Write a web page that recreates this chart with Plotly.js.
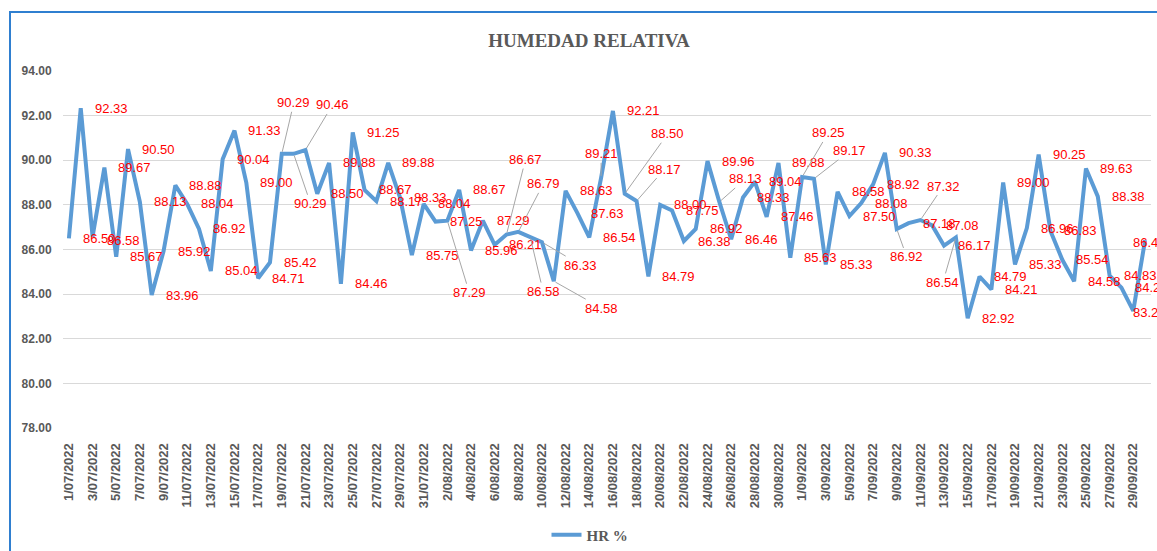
<!DOCTYPE html>
<html>
<head>
<meta charset="utf-8">
<script src="https://cdn.plot.ly/plotly-3.0.1.min.js"></script>
<style>
  html, body { margin: 0; padding: 0; background: #ffffff; }
  #chart { width: 1157px; height: 551px; }
</style>
</head>
<body>
<div id="chart"></div>
<script>
// ---- data ----
const dates = [
  "1/07/2022","2/07/2022","3/07/2022","4/07/2022","5/07/2022","6/07/2022","7/07/2022","8/07/2022",
  "9/07/2022","10/07/2022","11/07/2022","12/07/2022","13/07/2022","14/07/2022","15/07/2022","16/07/2022",
  "17/07/2022","18/07/2022","19/07/2022","20/07/2022","21/07/2022","22/07/2022","23/07/2022","24/07/2022",
  "25/07/2022","26/07/2022","27/07/2022","28/07/2022","29/07/2022","30/07/2022","31/07/2022",
  "1/08/2022","2/08/2022","3/08/2022","4/08/2022","5/08/2022","6/08/2022","7/08/2022","8/08/2022",
  "9/08/2022","10/08/2022","11/08/2022","12/08/2022","13/08/2022","14/08/2022","15/08/2022","16/08/2022",
  "17/08/2022","18/08/2022","19/08/2022","20/08/2022","21/08/2022","22/08/2022","23/08/2022","24/08/2022",
  "25/08/2022","26/08/2022","27/08/2022","28/08/2022","29/08/2022","30/08/2022","31/08/2022",
  "1/09/2022","2/09/2022","3/09/2022","4/09/2022","5/09/2022","6/09/2022","7/09/2022","8/09/2022",
  "9/09/2022","10/09/2022","11/09/2022","12/09/2022","13/09/2022","14/09/2022","15/09/2022","16/09/2022",
  "17/09/2022","18/09/2022","19/09/2022","20/09/2022","21/09/2022","22/09/2022","23/09/2022","24/09/2022",
  "25/09/2022","26/09/2022","27/09/2022","28/09/2022","29/09/2022","30/09/2022"
];

const hrValues = [
  86.50, 92.33, 86.58, 89.67, 85.67, 90.50, 88.13, 83.96, 85.92, 88.88,
  88.04, 86.92, 85.04, 90.04, 91.33, 89.00, 84.71, 85.42, 90.29, 90.29,
  90.46, 88.50, 89.88, 84.46, 91.25, 88.67, 88.17, 89.88, 88.33, 85.75,
  88.04, 87.25, 87.29, 88.67, 85.96, 87.29, 86.21, 86.67, 86.79, 86.58,
  86.33, 84.58, 88.63, 87.63, 86.54, 89.21, 92.21, 88.50, 88.17, 84.79,
  88.00, 87.75, 86.38, 86.92, 89.96, 88.13, 86.46, 88.33, 89.04, 87.46,
  89.88, 85.63, 89.25, 89.17, 85.33, 88.58, 87.50, 88.08, 88.92, 90.33,
  86.92, 87.18, 87.32, 87.08, 86.17, 86.54, 82.92, 84.79, 84.21, 89.00,
  85.33, 86.96, 90.25, 86.83, 85.54, 84.58, 89.63, 88.38, 84.83, 84.29,
  83.25, 86.42
];

const seriesName = "HR %";
const chartTitle = "HUMEDAD RELATIVA";
const yTickValues = [78, 80, 82, 84, 86, 88, 90, 92, 94];
const xTickLabels = dates.filter((d, i) => i % 2 === 0);

// ---- label placement (style only: pixel offsets of manually moved labels) ----
const leaderOffsets = {
  18: [12, -51], 19: [17, 50], 20: [27, -45], 32: [22, 72], 37: [19, -75],
  38: [25, -48], 39: [13, 55], 40: [39, 23], 41: [48, 27], 45: [0, -24],
  47: [43, -60], 48: [28, -32], 55: [26, -23], 62: [26, -44], 63: [36, -28],
  70: [10, 28], 72: [23, -34], 75: [-13, 45]
};
const shiftOverrides = { 2: [12, -4], 90: [-2, -2], 91: [-14, -2] };

const labelFont = { family: "Liberation Sans, Arial, sans-serif", size: 13, color: "#FF0000" };

const annotations = hrValues.map((v, i) => {
  const txt = v.toFixed(2);
  if (leaderOffsets[i]) {
    const [ax, ay] = leaderOffsets[i];
    return {
      x: dates[i], y: v, xref: "x", yref: "y", text: txt, font: labelFont,
      showarrow: true, arrowhead: 0, arrowwidth: 1, arrowcolor: "#A6A6A6",
      ax: ax, ay: ay, standoff: 2
    };
  }
  const sh = shiftOverrides[i] || [12, 0];
  return {
    x: dates[i], y: v, xref: "x", yref: "y", text: txt, font: labelFont,
    showarrow: false, xanchor: "left", yanchor: "middle", xshift: sh[0], yshift: sh[1]
  };
});

const trace = {
  x: dates,
  y: hrValues,
  type: "scatter",
  mode: "lines",
  name: seriesName,
  line: { color: "#5B9BD5", width: 4, shape: "linear" },
  hoverinfo: "x+y"
};

const layout = {
  width: 1157,
  height: 551,
  paper_bgcolor: "#ffffff",
  plot_bgcolor: "#ffffff",
  margin: { l: 63, r: 6, t: 71, b: 123, autoexpand: false },
  title: {
    text: "<b>" + chartTitle + "</b>",
    font: { family: "Liberation Serif, Times New Roman, serif", size: 19, color: "#595959" },
    x: 589 / 1157, xanchor: "center", xref: "container",
    y: 1 - 40 / 551, yanchor: "middle", yref: "container",
    automargin: false
  },
  xaxis: {
    type: "category",
    categoryorder: "array",
    categoryarray: dates,
    range: [-0.5, dates.length - 0.5],
    tickmode: "array",
    tickvals: xTickLabels,
    ticktext: xTickLabels,
    tickangle: -90,
    tickfont: { family: "Liberation Sans, Arial, sans-serif", size: 13, color: "#595959", weight: "bold" },
    showgrid: false,
    showline: false,
    zeroline: false,
    ticks: "outside",
    ticklen: 9,
    tickcolor: "rgba(0,0,0,0)",
    automargin: false,
    fixedrange: true
  },
  yaxis: {
    range: [78, 94],
    tickmode: "array",
    tickvals: yTickValues,
    tickformat: ".2f",
    tickfont: { family: "Liberation Sans, Arial, sans-serif", size: 12, color: "#595959", weight: "bold" },
    showgrid: true,
    gridcolor: "#D9D9D9",
    gridwidth: 1,
    zeroline: false,
    showline: false,
    ticks: "outside",
    ticklen: 8,
    tickcolor: "rgba(0,0,0,0)",
    automargin: false,
    fixedrange: true
  },
  showlegend: true,
  legend: {
    orientation: "h",
    xref: "container",
    yref: "container",
    x: 590 / 1157,
    xanchor: "center",
    y: 1 - 535 / 551,
    yanchor: "middle",
    font: { family: "Liberation Serif, Times New Roman, serif", size: 15, color: "#595959", weight: "bold" },
    bgcolor: "rgba(0,0,0,0)"
  },
  annotations: annotations,
  shapes: [{
    type: "rect", xref: "paper", yref: "paper",
    x0: (10 - 63) / 1088, x1: 1.05,
    y0: -0.5, y1: 1 + (71 - 12) / 357,
    line: { color: "#2F7FD0", width: 2 },
    fillcolor: "rgba(0,0,0,0)",
    layer: "below"
  }]
};

Plotly.newPlot("chart", [trace], layout, { displayModeBar: false, staticPlot: true });
</script>
</body>
</html>
